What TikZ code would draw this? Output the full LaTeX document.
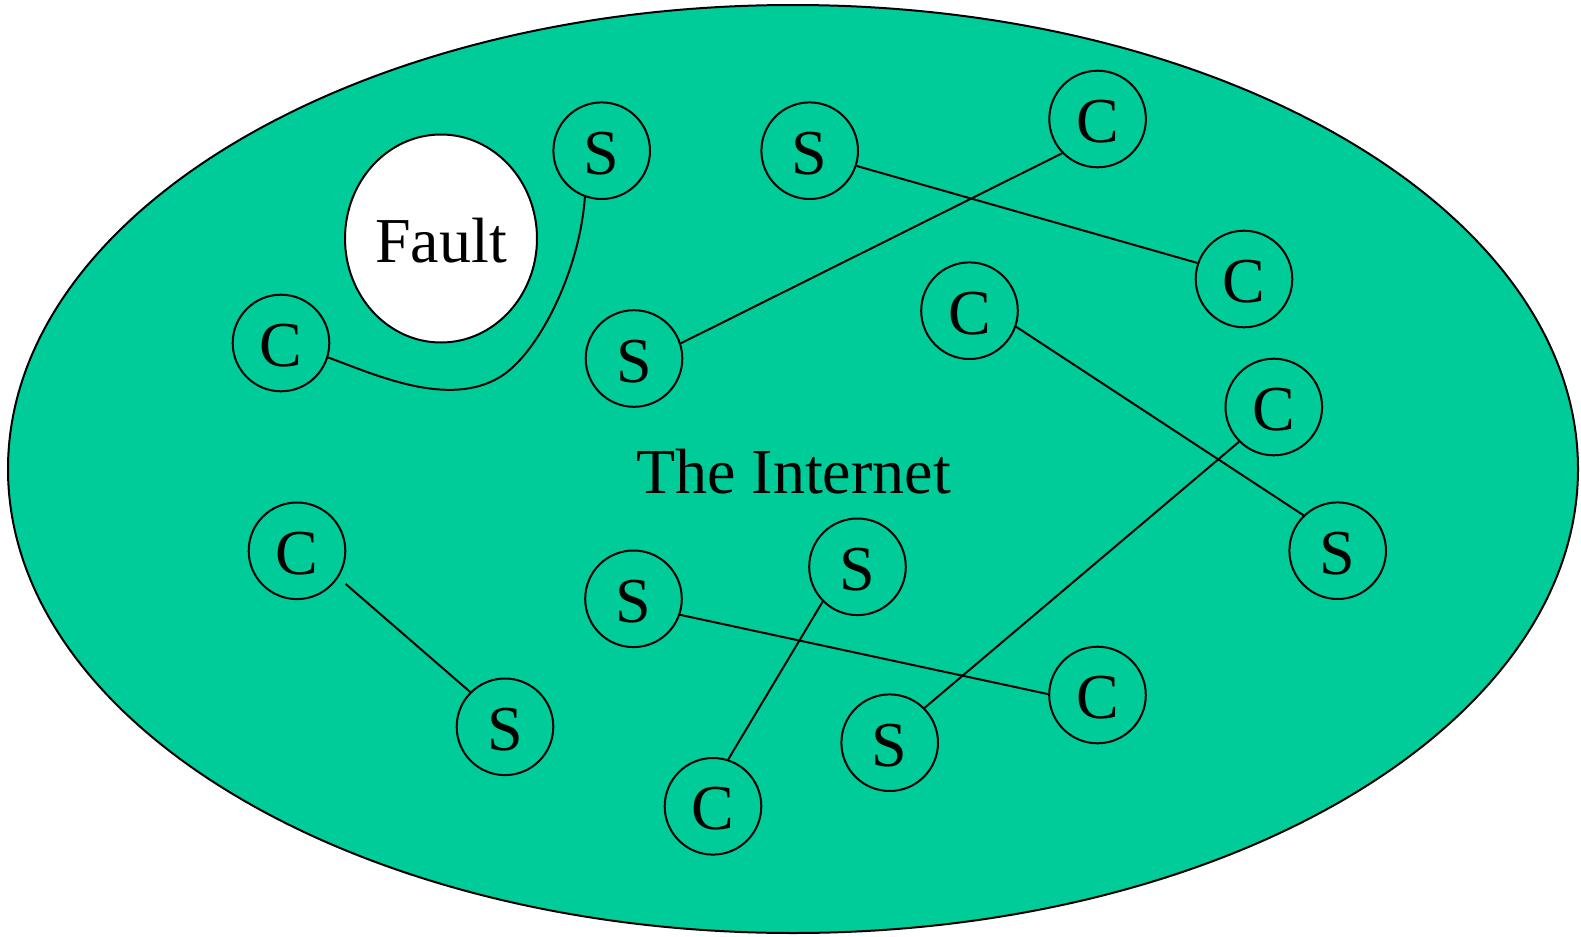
\documentclass[tikz,border=0pt]{standalone}
\usepackage{fontspec}
\setmainfont{Liberation Serif}
\usetikzlibrary{shapes.geometric}
\definecolor{netgreen}{RGB}{0,204,153}
\begin{document}
\begin{tikzpicture}[x=0.5pt,y=-0.5pt,
  bigfont/.style={font=\fontsize{32}{38}\selectfont,text height=23.5pt,text depth=0pt},
  host/.style={circle,draw,line width=1pt,minimum size=48.3pt,inner sep=0pt,bigfont},
  link/.style={line width=1pt}]
\useasboundingbox (0,0) rectangle (1581,937);

% the network cloud
\draw[line width=1pt,fill=netgreen] (793,469) ellipse [x radius=392.5pt, y radius=232pt];
\node[bigfont,anchor=base] (internet) at (793.5,493.3) {The Internet};

% the failed region
\node[ellipse,draw,fill=white,line width=1pt,minimum width=96pt,minimum height=104pt,
      inner sep=0pt,bigfont] (fault) at (441,238.5) {Fault};

% servers and clients
\node[host] (S1) at (601.7,150.7) {S};
\node[host] (S2) at (809.7,150.7) {S};
\node[host] (C1) at (1097.6,119) {C};
\node[host] (C2) at (1244,279) {C};
\node[host] (C3) at (281,343) {C};
\node[host] (S3) at (634,358.5) {S};
\node[host] (C4) at (969.5,310.7) {C};
\node[host] (C5) at (1273.8,407) {C};
\node[host] (S4) at (1337.7,550.7) {S};
\node[host] (C6) at (297,550.8) {C};
\node[host] (S5) at (633.5,598.8) {S};
\node[host] (S6) at (857.5,566.8) {S};
\node[host] (C7) at (1097.5,695) {C};
\node[host] (S7) at (505,726.8) {S};
\node[host] (S8) at (889.7,742.7) {S};
\node[host] (C8) at (713,806.3) {C};

% connections; the first one detours round the fault
\coordinate (bend) at (500,377);
\draw[link] (S1.250.7) .. controls (580,270) and (538.5,353.7) .. (bend)
                       .. controls (448.7,408) and (376.8,375.5) .. (C3.-17);
\draw[link] (S2.-18.4) -- (C2.161.9);
\draw[link] (S3.18.7) -- (C1.224.7);
\draw[link] (C4.-19.2) -- (S4.134.4);
\draw[link] (C5.225.2) -- (S8.45.5);
\draw[link,shorten <=4.8pt] (C6.-33) -- (S7.135);
\draw[link] (S5.-19.3) -- (C7.179.2);
\draw[link] (S6.225.3) -- (C8.72.3);
\end{tikzpicture}
\end{document}
